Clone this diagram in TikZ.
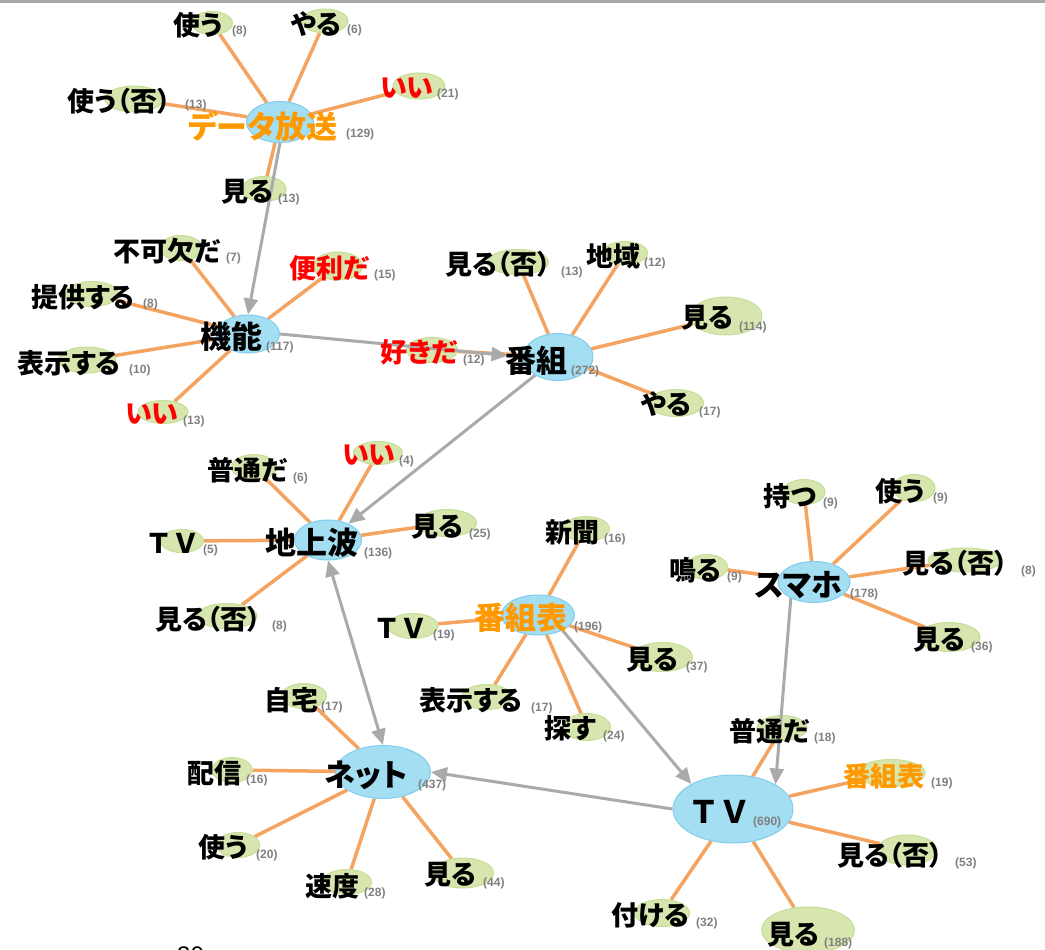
\documentclass[tikz,border=0pt]{standalone}
\usepackage{fontspec}
\setmainfont{Noto Sans CJK JP}[RawFeature=+palt]
\newfontfamily\widefont{Noto Sans CJK JP}
\newfontfamily\numfont{Liberation Sans}
\usetikzlibrary{shapes.geometric,positioning,backgrounds,arrows.meta}

\definecolor{hubfill}{RGB}{164,222,242}
\definecolor{hubline}{RGB}{128,205,236}
\definecolor{leaffill}{RGB}{214,230,174}
\definecolor{leafline}{RGB}{198,222,150}
\definecolor{edgeorange}{RGB}{244,164,96}
\definecolor{linkgray}{RGB}{170,170,170}
\definecolor{freqgray}{RGB}{128,128,128}
\definecolor{wordorange}{RGB}{255,153,0}
\definecolor{wordred}{RGB}{255,0,0}
\definecolor{topgray}{RGB}{168,168,168}

\tikzset{
  hub/.style={ellipse, fill=hubfill, draw=hubline, line width=1pt, inner sep=0pt},
  leaf/.style={ellipse, fill=leaffill, draw=leafline, line width=1pt, inner sep=0pt},
  word/.style={inner sep=0pt, font=\fontsize{27}{27}\selectfont\bfseries},
  hubword/.style={inner sep=0pt, font=\fontsize{31}{31}\selectfont\bfseries},
  fwword/.style={inner sep=0pt, font=\widefont\fontsize{27}{27}\selectfont\bfseries},
  fwhub/.style={inner sep=0pt, font=\widefont\fontsize{31}{31}\selectfont\bfseries},
  freq/.style={anchor=base west, inner sep=0pt, text=freqgray,
               font=\numfont\fontsize{12}{12}\selectfont\bfseries},
  cooc/.style={draw=edgeorange, line width=3.5pt},
  link/.style={draw=linkgray, line width=3pt, -{Triangle[length=16pt,width=14pt]}},
}

\begin{document}
\begin{tikzpicture}[x=1pt,y=-1pt]
  \useasboundingbox (0,0) rectangle (1045,950);
  \clip (0,0) rectangle (1045,950);
  \fill[topgray] (0,0) rectangle (1045,3);

  % ellipses
  \node[hub, minimum width=67, minimum height=41] (dh) at (280,122) {};
  \node[leaf, minimum width=41, minimum height=23] (dh1) at (212,23) {};
  \node[leaf, minimum width=46, minimum height=24] (dh2) at (325,21) {};
  \node[leaf, minimum width=52, minimum height=26] (dh3) at (419,86) {};
  \node[leaf, minimum width=58, minimum height=26] (dh4) at (134,99) {};
  \node[leaf, minimum width=44, minimum height=25] (dh5) at (264,189) {};

  \node[hub, minimum width=63, minimum height=38] (kn) at (248,334) {};
  \node[leaf, minimum width=42, minimum height=25] (kn1) at (181,248) {};
  \node[leaf, minimum width=49, minimum height=28] (kn2) at (338,266) {};
  \node[leaf, minimum width=53, minimum height=25] (kn3) at (92,294) {};
  \node[leaf, minimum width=57, minimum height=26] (kn4) at (87,360) {};
  \node[leaf, minimum width=50, minimum height=23] (kn5) at (163,412) {};

  \node[hub, minimum width=70, minimum height=47] (bg) at (558,357) {};
  \node[leaf, minimum width=61, minimum height=25] (bg1) at (518,262) {};
  \node[leaf, minimum width=45, minimum height=23] (bg2) at (625,253) {};
  \node[leaf, minimum width=72, minimum height=38] (bg3) at (726,316) {};
  \node[leaf, minimum width=55, minimum height=27] (bg4) at (676,403) {};
  \node[leaf, minimum width=51, minimum height=25] (bg5) at (432,350) {};

  \node[hub, minimum width=67, minimum height=40] (ch) at (328,540) {};
  \node[leaf, minimum width=45, minimum height=25] (ch1) at (254,467) {};
  \node[leaf, minimum width=49, minimum height=23] (ch2) at (378,453) {};
  \node[leaf, minimum width=43, minimum height=23] (ch3) at (182,541) {};
  \node[leaf, minimum width=59, minimum height=27] (ch4) at (447,523) {};
  \node[leaf, minimum width=60, minimum height=25] (ch5) at (227,616) {};

  \node[hub, minimum width=95, minimum height=53] (nt) at (383,772) {};
  \node[leaf, minimum width=45, minimum height=25] (nt1) at (304,696) {};
  \node[leaf, minimum width=40, minimum height=25] (nt2) at (232,770) {};
  \node[leaf, minimum width=43, minimum height=25] (nt3) at (238,845) {};
  \node[leaf, minimum width=49, minimum height=25] (nt4) at (347,882) {};
  \node[leaf, minimum width=61, minimum height=30] (nt5) at (463,873) {};

  \node[hub, minimum width=73, minimum height=40] (bt) at (538,615) {};
  \node[leaf, minimum width=47, minimum height=25] (bt1) at (586,529) {};
  \node[leaf, minimum width=50, minimum height=25] (bt2) at (413,626) {};
  \node[leaf, minimum width=61, minimum height=29] (bt3) at (662,657) {};
  \node[leaf, minimum width=50, minimum height=25] (bt4) at (487,697) {};
  \node[leaf, minimum width=47, minimum height=27] (bt5) at (587,727) {};

  \node[hub, minimum width=72, minimum height=41] (sp) at (814,582) {};
  \node[leaf, minimum width=42, minimum height=25] (sp1) at (804,492) {};
  \node[leaf, minimum width=42, minimum height=27] (sp2) at (914,488) {};
  \node[leaf, minimum width=41, minimum height=25] (sp3) at (707,567) {};
  \node[leaf, minimum width=74, minimum height=24] (sp4) at (965,560) {};
  \node[leaf, minimum width=62, minimum height=29] (sp5) at (949,637) {};

  \node[hub, minimum width=120, minimum height=68] (tv) at (733,809) {};
  \node[leaf, minimum width=50, minimum height=25] (tv1) at (782,728) {};
  \node[leaf, minimum width=68, minimum height=27] (tv2) at (891,773) {};
  \node[leaf, minimum width=59, minimum height=30] (tv3) at (907,850) {};
  \node[leaf, minimum width=55, minimum height=27] (tv4) at (662,913) {};
  \node[leaf, minimum width=93, minimum height=46] (tv5) at (808,930) {};

  % connectors
  \begin{pgfonlayer}{background}
    \foreach \h in {dh,kn,bg,ch,nt,bt,sp,tv}
      \foreach \i in {1,...,5}
        \draw[cooc] (\h) -- (\h\i);
  \end{pgfonlayer}
  \draw[link] (dh.south) -- (kn.north);
  \draw[link, shorten >=15pt] (kn.east) -- (bg.west);
  \draw[link] (bg) -- (ch);
  \draw[link, {Triangle[length=16pt,width=14pt]}-{Triangle[length=16pt,width=14pt]}] (ch.south) -- (nt.north);
  \draw[link] (bt.-32) -- (tv.149);
  \draw[link] (sp.215) -- (tv.30);
  \draw[link] (tv.west) -- (nt.east);

  % words
  \node[hubword, text=wordorange] (dh-w) at (263,126) {データ放送};
  \node[freq] (dh-n) at (346,137) {(129)};
  \node[word] (dh1-w) at (198,25) {使う};
  \node[freq] (dh1-n) at (232,35) {(8)};
  \node[word] (dh2-w) at (316,24) {やる};
  \node[freq] (dh2-n) at (347,34) {(6)};
  \node[word, text=wordred] (dh3-w) at (407,88) {いい};
  \node[freq] (dh3-n) at (437,98) {(21)};
  \node[word] (dh4-w) at (119,101) {使う（否）};
  \node[freq] (dh4-n) at (185,108) {(13)};
  \node[word] (dh5-w) at (247,192) {見る};
  \node[freq] (dh5-n) at (278,202) {(13)};

  \node[hubword] (kn-w) at (231,337) {機能};
  \node[freq] (kn-n) at (266,350) {(117)};
  \node[word] (kn1-w) at (167,251) {不可欠だ};
  \node[freq] (kn1-n) at (226,261) {(7)};
  \node[word, text=wordred] (kn2-w) at (329,268) {便利だ};
  \node[freq] (kn2-n) at (374,278) {(15)};
  \node[word] (kn3-w) at (83,297) {提供する};
  \node[freq] (kn3-n) at (143,307) {(8)};
  \node[word] (kn4-w) at (69,363) {表示する};
  \node[freq] (kn4-n) at (129,373) {(10)};
  \node[word, text=wordred] (kn5-w) at (152,414) {いい};
  \node[freq] (kn5-n) at (183,424) {(13)};

  \node[hubword] (bg-w) at (536,361) {番組};
  \node[freq] (bg-n) at (571,374) {(272)};
  \node[word] (bg1-w) at (498,264) {見る（否）};
  \node[freq] (bg1-n) at (561,275) {(13)};
  \node[word] (bg2-w) at (613,256) {地域};
  \node[freq] (bg2-n) at (644,266) {(12)};
  \node[word] (bg3-w) at (707,318) {見る};
  \node[freq] (bg3-n) at (739,330) {(114)};
  \node[word] (bg4-w) at (666,404) {やる};
  \node[freq] (bg4-n) at (699,415) {(17)};
  \node[word, text=wordred] (bg5-w) at (419,352) {好きだ};
  \node[freq] (bg5-n) at (463,363) {(12)};

  \node[hubword] (ch-w) at (312,543) {地上波};
  \node[freq] (ch-n) at (364,556) {(136)};
  \node[word] (ch1-w) at (247,470) {普通だ};
  \node[freq] (ch1-n) at (293,481) {(6)};
  \node[word, text=wordred] (ch2-w) at (369,455) {いい};
  \node[freq] (ch2-n) at (399,464) {(4)};
  \node[fwword] (ch3-w) at (172,543) {ＴＶ};
  \node[freq] (ch3-n) at (203,553) {(5)};
  \node[word] (ch4-w) at (437,527) {見る};
  \node[freq] (ch4-n) at (469,537) {(25)};
  \node[word] (ch5-w) at (208,619) {見る（否）};
  \node[freq] (ch5-n) at (272,629) {(8)};

  \node[hubword] (nt-w) at (366,775) {ネット};
  \node[freq] (nt-n) at (418,788) {(437)};
  \node[word] (nt1-w) at (291,700) {自宅};
  \node[freq] (nt1-n) at (321,710) {(17)};
  \node[word] (nt2-w) at (214,773) {配信};
  \node[freq] (nt2-n) at (246,783) {(16)};
  \node[word] (nt3-w) at (223,847) {使う};
  \node[freq] (nt3-n) at (256,858) {(20)};
  \node[word] (nt4-w) at (332,886) {速度};
  \node[freq] (nt4-n) at (364,896) {(28)};
  \node[word] (nt5-w) at (450,875) {見る};
  \node[freq] (nt5-n) at (483,886) {(44)};

  \node[hubword, text=wordorange] (bt-w) at (521,618) {番組表};
  \node[freq] (bt-n) at (574,630) {(196)};
  \node[word] (bt1-w) at (572,532) {新聞};
  \node[freq] (bt1-n) at (604,542) {(16)};
  \node[fwword] (bt2-w) at (400,628) {ＴＶ};
  \node[freq] (bt2-n) at (433,638) {(19)};
  \node[word] (bt3-w) at (652,660) {見る};
  \node[freq] (bt3-n) at (686,670) {(37)};
  \node[word] (bt4-w) at (471,700) {表示する};
  \node[freq] (bt4-n) at (531,711) {(17)};
  \node[word] (bt5-w) at (570,728) {探す};
  \node[freq] (bt5-n) at (603,739) {(24)};

  \node[hubword] (sp-w) at (799,585) {スマホ};
  \node[freq] (sp-n) at (850,597) {(178)};
  \node[word] (sp1-w) at (790,496) {持つ};
  \node[freq] (sp1-n) at (823,506) {(9)};
  \node[word] (sp2-w) at (900,491) {使う};
  \node[freq] (sp2-n) at (933,501) {(9)};
  \node[word] (sp3-w) at (695,570) {鳴る};
  \node[freq] (sp3-n) at (727,580) {(9)};
  \node[word] (sp4-w) at (955,563) {見る（否）};
  \node[freq] (sp4-n) at (1021,574) {(8)};
  \node[word] (sp5-w) at (939,640) {見る};
  \node[freq] (sp5-n) at (971,650) {(36)};

  \node[fwhub] (tv-w) at (719,812) {ＴＶ};
  \node[freq] (tv-n) at (753,825) {(690)};
  \node[word] (tv1-w) at (769,731) {普通だ};
  \node[freq] (tv1-n) at (814,741) {(18)};
  \node[word, text=wordorange] (tv2-w) at (884,776) {番組表};
  \node[freq] (tv2-n) at (931,786) {(19)};
  \node[word] (tv3-w) at (890,855) {見る（否）};
  \node[freq] (tv3-n) at (955,866) {(53)};
  \node[word] (tv4-w) at (650,915) {付ける};
  \node[freq] (tv4-n) at (696,926) {(32)};
  \node[word] (tv5-w) at (793,935) {見る};
  \node[freq] (tv5-n) at (824,946) {(188)};

  \node[anchor=base west, inner sep=0pt, font=\numfont\fontsize{24}{24}\selectfont] (pg) at (177,963) {30};
\end{tikzpicture}
\end{document}
